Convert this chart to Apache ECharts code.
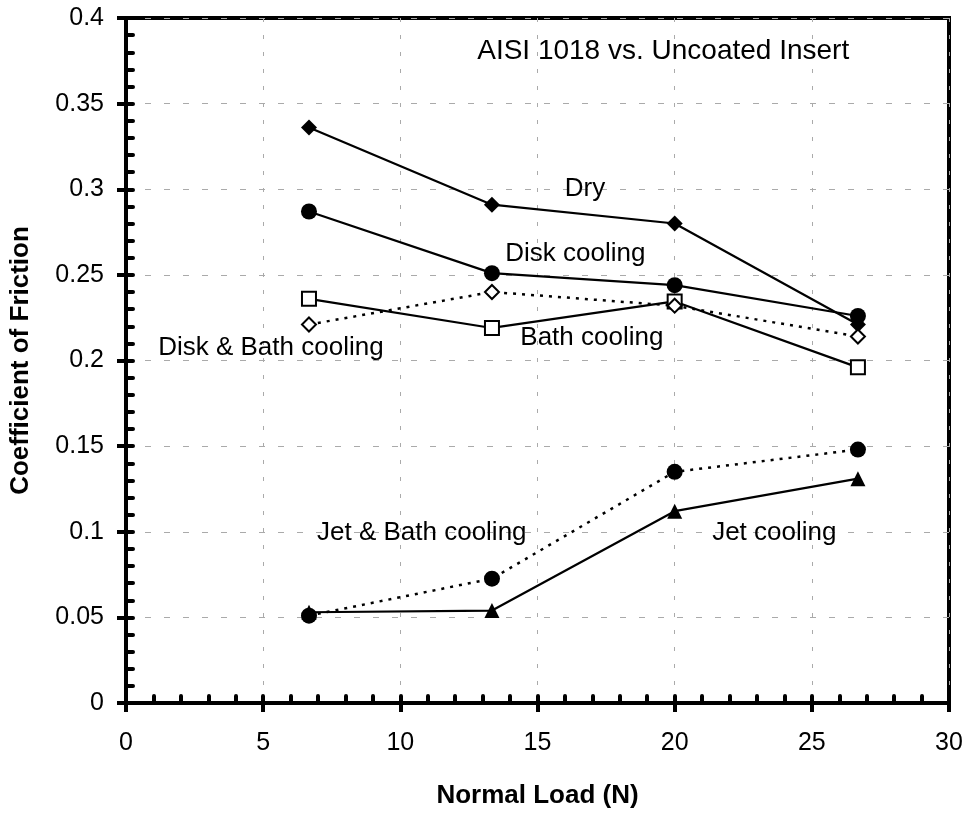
<!DOCTYPE html>
<html>
<head>
<meta charset="utf-8">
<script src="https://cdn.jsdelivr.net/npm/echarts@6/dist/echarts.min.js"></script>
<style>
  html, body { margin: 0; padding: 0; background: #fff; }
  #chart { width: 967px; height: 814px; }
</style>
</head>
<body>
<div id="chart"></div>
<script>
// normal load positions (N)
var loads = [6.67, 13.34, 20.0, 26.68]

// coefficient of friction per cooling method
var dry = [0.336, 0.291, 0.280, 0.221]
var diskCooling = [0.287, 0.251, 0.244, 0.226]
var bathCooling = [0.236, 0.219, 0.2345, 0.196]
var diskBathCooling = [0.221, 0.240, 0.232, 0.214]
var jetBathCooling = [0.051, 0.0726, 0.135, 0.148]
var jetCooling = [0.053, 0.054, 0.112, 0.131]

// text notes placed in data coordinates
var noteText = ['AISI 1018 vs. Uncoated Insert', 'Dry', 'Disk cooling', 'Bath cooling', 'Disk & Bath cooling', 'Jet & Bath cooling', 'Jet cooling']
var noteX = [19.6, 16.75, 16.4, 17.0, 5.3, 10.8, 23.65]
var noteY = [0.380, 0.300, 0.262, 0.213, 0.207, 0.0993, 0.0993]
var noteSize = [28, 26, 26, 26, 26, 26, 26]

var FONT = '"Liberation Sans", Arial, sans-serif'

function pairs(ys) {
  return ys.map(function (y, i) { return [loads[i], y] })
}

function lineSeries(name, ys, symbol, size, filled, dotted) {
  return {
    name: name,
    type: 'line',
    data: pairs(ys),
    symbol: symbol,
    symbolSize: size,
    showSymbol: true,
    lineStyle: { color: '#000', width: dotted ? 2.5 : 2.2, type: dotted ? [3, 6] : 'solid' },
    itemStyle: {
      color: filled ? '#000' : '#fff',
      borderColor: '#000',
      borderWidth: filled ? 0 : 2
    },
    emphasis: { disabled: true },
    z: 3
  }
}

var chart = echarts.init(document.getElementById('chart'))

var option = {
  animation: false,
  backgroundColor: '#fff',
  grid: {
    left: 124, top: 18, right: 18, bottom: 107,
    show: true, borderColor: '#000', borderWidth: 4
  },
  xAxis: [
    {
      type: 'value', min: 0, max: 30, interval: 5,
      name: 'Normal Load (N)', nameLocation: 'middle', nameGap: 80,
      nameTextStyle: { fontFamily: FONT, fontSize: 26, fontWeight: 'bold', color: '#000' },
      axisLine: { lineStyle: { color: '#000', width: 4 } },
      axisTick: { show: true, inside: false, length: 9, lineStyle: { color: '#000', width: 4 } },
      axisLabel: { fontFamily: FONT, fontSize: 25, color: '#000', margin: 28 },
      splitLine: { show: true, lineStyle: { color: '#aaa', width: 1, type: [4, 13] } }
    },
    {
      type: 'value', min: 0, max: 30, interval: 5, position: 'bottom',
      axisLine: { show: false },
      axisTick: { show: true, inside: true, length: 7, lineStyle: { color: '#000', width: 4, cap: 'round' } },
      minorTick: { show: true, splitNumber: 5, length: 7, lineStyle: { color: '#000', width: 4, cap: 'round' } },
      axisLabel: { show: false },
      splitLine: { show: false }
    }
  ],
  yAxis: [
    {
      type: 'value', min: 0, max: 0.4, interval: 0.05,
      name: 'Coefficient of Friction', nameLocation: 'middle', nameGap: 92,
      nameTextStyle: { fontFamily: FONT, fontSize: 26, fontWeight: 'bold', color: '#000' },
      axisLine: { show: true, lineStyle: { color: '#000', width: 4 } },
      axisTick: { show: true, inside: false, length: 9, lineStyle: { color: '#000', width: 4 } },
      axisLabel: { fontFamily: FONT, fontSize: 25, color: '#000', margin: 22 },
      splitLine: { show: true, lineStyle: { color: '#aaa', width: 1, type: [6, 13] } }
    },
    {
      type: 'value', min: 0, max: 0.4, interval: 0.05, position: 'left',
      axisLine: { show: false },
      axisTick: { show: true, inside: true, length: 7, lineStyle: { color: '#000', width: 4, cap: 'round' } },
      minorTick: { show: true, splitNumber: 5, length: 7, lineStyle: { color: '#000', width: 4, cap: 'round' } },
      axisLabel: { show: false },
      splitLine: { show: false }
    }
  ],
  series: [
    lineSeries('Dry', dry, 'diamond', 16, true, false),
    lineSeries('Disk cooling', diskCooling, 'circle', 16, true, false),
    lineSeries('Bath cooling', bathCooling, 'rect', 14, false, false),
    lineSeries('Disk & Bath cooling', diskBathCooling, 'diamond', 14, false, true),
    lineSeries('Jet & Bath cooling', jetBathCooling, 'circle', 16, true, true),
    lineSeries('Jet cooling', jetCooling, 'triangle', 15, true, false),
    {
      name: 'notes',
      type: 'scatter',
      symbolSize: 1,
      itemStyle: { color: 'transparent' },
      data: noteText.map(function (t, i) {
        return { value: [noteX[i], noteY[i]], name: t, label: { fontSize: noteSize[i] } }
      }),
      label: {
        show: true, position: [0, 0], align: 'center', verticalAlign: 'middle',
        formatter: function (p) { return p.name },
        fontFamily: FONT, color: '#000', opacity: 1, textBorderWidth: 0
      },
      emphasis: { disabled: true },
      silent: true,
      z: 5
    }
  ]
}

chart.setOption(option)
</script>
</body>
</html>
